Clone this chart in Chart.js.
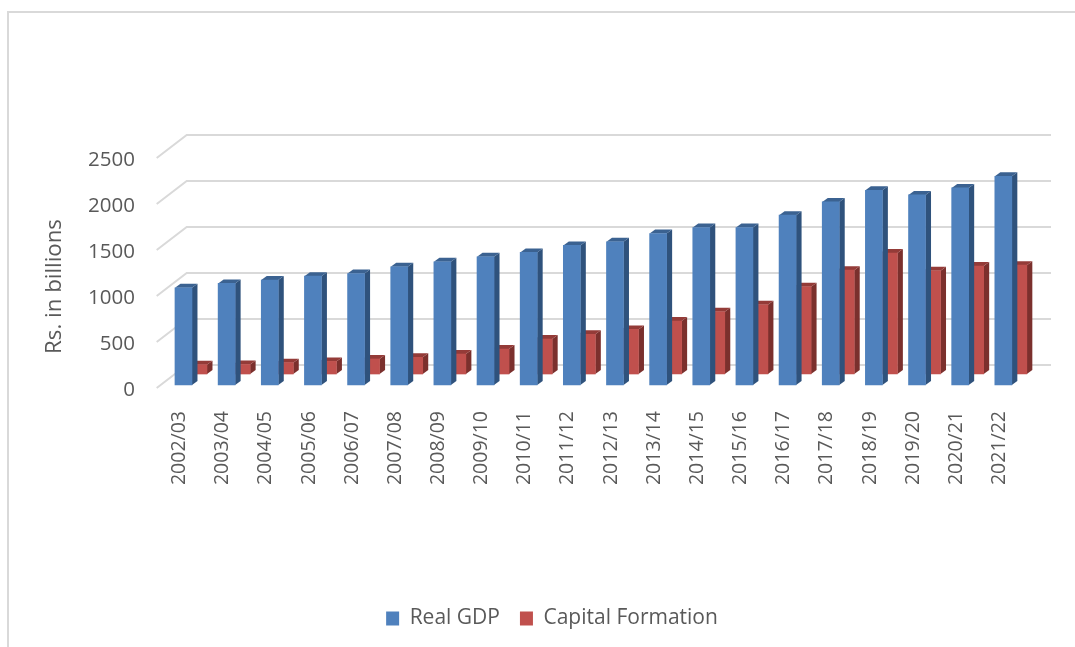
<!DOCTYPE html>
<html>
<head>
<meta charset="utf-8">
<title>Real GDP and Capital Formation</title>
<script src="https://cdn.jsdelivr.net/npm/chart.js@4/dist/chart.umd.min.js"></script>
<style>
  html, body { margin: 0; padding: 0; background: #fff; overflow: hidden; }
  .frame { position: absolute; left: 7px; top: 11px; right: 0; bottom: 0; border-left: 2px solid #d9d9d9; border-top: 2px solid #d9d9d9; }
  canvas { position: absolute; left: 0; top: 0; }
</style>
</head>
<body>
<div class="frame"></div>
<canvas id="gdpChart" width="1075" height="647"></canvas>
<script>
const years = ['2002/03', '2003/04', '2004/05', '2005/06', '2006/07', '2007/08', '2008/09', '2009/10', '2010/11', '2011/12',
  '2012/13', '2013/14', '2014/15', '2015/16', '2016/17', '2017/18', '2018/19', '2019/20', '2020/21', '2021/22'];
const realGdp = [1056, 1104, 1140, 1183, 1212, 1284, 1339, 1393, 1441, 1517,
  1556, 1647, 1712, 1712, 1846, 1990, 2117, 2066, 2142, 2269];
const capitalFormation = [101, 103, 123, 137, 163, 181, 217, 271, 380, 431,
  485, 575, 676, 752, 948, 1129, 1314, 1122, 1173, 1183];
const yTicks = [0, 500, 1000, 1500, 2000, 2500];
const yTitle = 'Rs. in billions';

const fontName = "'Open Sans', sans-serif";
const textColor = '#595959';
const gridColor = '#d9d9d9';

// where each series sits in the fake 3D depth, and its side/top shades
const seriesLook = [
  { dx: 3.9, dy: -3, side: '#2f527c', top: '#3b6291' },
  { dx: 18.9, dy: -14, side: '#7b302d', top: '#943b38' }
];
const barDepth = { x: 5.5, y: -4 };
const wallDepth = { x: 30, y: -23 };

function fillPoly(ctx, color, pts) {
  ctx.fillStyle = color;
  ctx.beginPath();
  pts.forEach((p, i) => i ? ctx.lineTo(p[0], p[1]) : ctx.moveTo(p[0], p[1]));
  ctx.closePath();
  ctx.fill();
}

const fake3d = {
  id: 'fake3d',
  // walls: gridlines run back from the front axis then across the back wall
  beforeDatasetsDraw(chart) {
    const { ctx, chartArea, scales } = chart;
    const x0 = chartArea.left - 1.3;
    ctx.save();
    ctx.strokeStyle = gridColor;
    ctx.lineWidth = 2;
    yTicks.forEach(v => {
      const y = scales.y.getPixelForValue(v);
      ctx.beginPath();
      ctx.moveTo(x0, y);
      ctx.lineTo(x0 + wallDepth.x, y + wallDepth.y);
      ctx.lineTo(chartArea.right + wallDepth.x, y + wallDepth.y);
      ctx.stroke();
    });
    ctx.restore();
  },
  beforeDatasetDraw(chart, args) {
    const ctx = chart.ctx;
    const look = seriesLook[args.index];
    ctx.save();
    ctx.translate(look.dx, look.dy);
    args.meta.data.forEach(bar => {
      const l = bar.x - bar.width / 2;
      const r = bar.x + bar.width / 2;
      fillPoly(ctx, look.side, [[r, bar.y], [r + barDepth.x, bar.y + barDepth.y], [r + barDepth.x, bar.base + barDepth.y], [r, bar.base]]);
      fillPoly(ctx, look.top, [[l, bar.y], [l + barDepth.x, bar.y + barDepth.y], [r + barDepth.x, bar.y + barDepth.y], [r, bar.y]]);
    });
  },
  afterDatasetDraw(chart) {
    chart.ctx.restore();
  },
  // axis title sits lower than the axis centre in the original
  afterDraw(chart) {
    const ctx = chart.ctx;
    ctx.save();
    ctx.translate(54.5, 286.5);
    ctx.rotate(-Math.PI / 2);
    ctx.font = '22.3px ' + fontName;
    ctx.fillStyle = textColor;
    ctx.textAlign = 'center';
    ctx.textBaseline = 'middle';
    ctx.fillText(yTitle, 0, 0);
    ctx.restore();
  }
};

new Chart(document.getElementById('gdpChart').getContext('2d'), {
  type: 'bar',
  data: {
    labels: years,
    datasets: [
      { label: 'Real GDP', data: realGdp, backgroundColor: '#4f81bd', clip: false },
      { label: 'Capital Formation', data: capitalFormation, backgroundColor: '#c0504d', clip: false }
    ]
  },
  options: {
    responsive: false,
    animation: false,
    grouped: false,
    barThickness: 17,
    layout: { padding: { left: 83, top: 158, right: 54, bottom: 8 } },
    plugins: {
      tooltip: { enabled: false },
      legend: {
        position: 'bottom',
        labels: { boxWidth: 13, boxHeight: 14, padding: 20, color: textColor, font: { family: fontName, size: 21 } }
      }
    },
    scales: {
      x: {
        grid: { display: false },
        border: { display: false },
        afterFit: s => { s.height = 200; },
        ticks: { minRotation: 90, maxRotation: 90, autoSkip: false, padding: 15, color: textColor, font: { family: fontName, size: 19.5 } }
      },
      y: {
        min: 0,
        max: 2500,
        grid: { display: false, drawTicks: false },
        border: { display: false },
        afterFit: s => { s.width = 75; },
        afterBuildTicks: s => { s.ticks = yTicks.map(v => ({ value: v })); },
        ticks: { padding: 23, labelOffset: 2, color: textColor, font: { family: fontName, size: 20.5 }, callback: v => String(v) }
      }
    }
  },
  plugins: [fake3d]
});
</script>
</body>
</html>
